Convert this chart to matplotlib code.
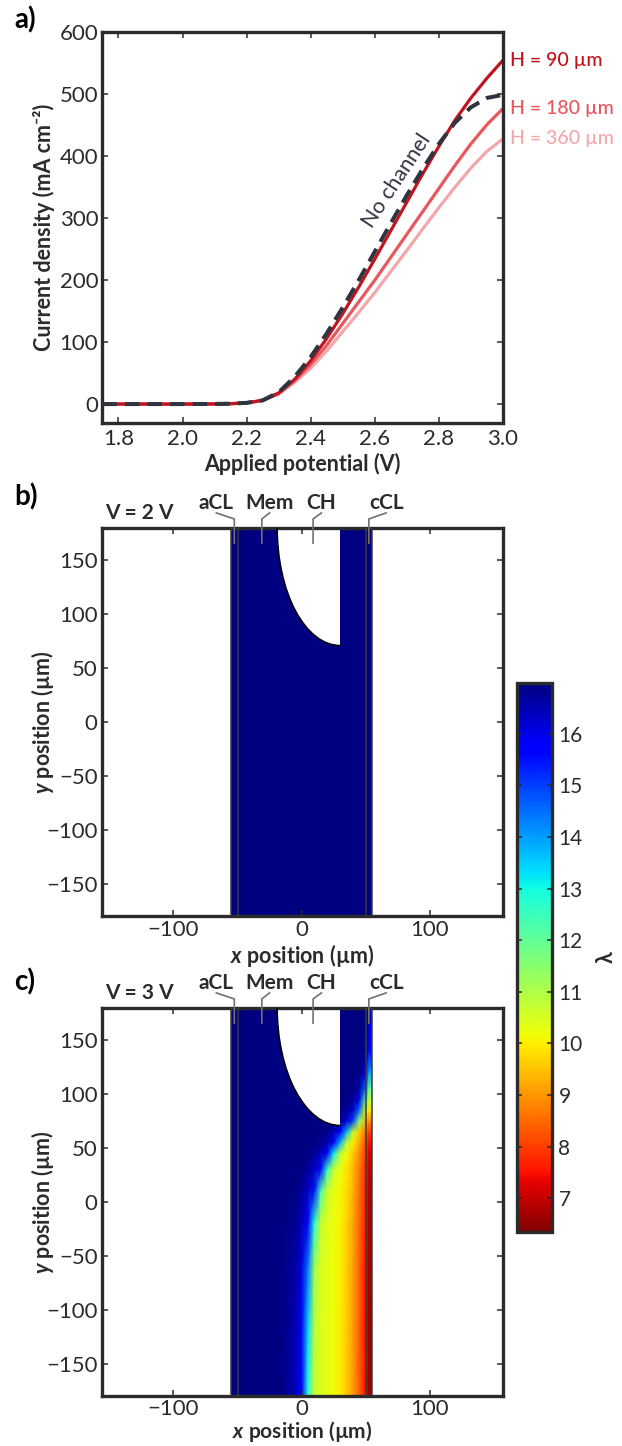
"""
Polarisation curves and membrane water content maps (panels a-c).
"""

import numpy as np
import matplotlib
matplotlib.use('Agg')
import matplotlib.pyplot as plt
from matplotlib.path import Path
from matplotlib.patches import PathPatch
from matplotlib.transforms import Affine2D
from matplotlib.ticker import FormatStrFormatter

plt.rcParams['font.family'] = ['Lato', 'DejaVu Sans']
plt.rcParams['mathtext.fontset'] = 'custom'
plt.rcParams['mathtext.rm'] = 'Lato'
plt.rcParams['mathtext.it'] = 'Lato:italic:bold'

INK = '#2b2b2b'

# ---- panel a: polarisation curves ----
potential = [1.75, 1.8, 1.9, 2.0, 2.1, 2.15, 2.2, 2.25, 2.3, 2.35, 2.4, 2.45,
             2.5, 2.55, 2.6, 2.65, 2.7, 2.75, 2.8, 2.85, 2.9, 2.95, 3.0]
j_no_channel = [0, 0, 0, 0, 0.2, 0.6, 2, 6, 19, 44, 76, 114,
                156, 200, 246, 292, 337, 380, 420, 454, 479, 494, 499]
j_h90 = [0, 0, 0, 0, 0.2, 0.6, 2, 6, 18, 40, 70, 106,
         146, 189, 234, 280, 326, 372, 416, 458, 494, 526, 555]
j_h180 = [0, 0, 0, 0, 0.2, 0.6, 2, 6, 17, 38, 64, 95,
          130, 165, 200, 237, 274, 311, 348, 385, 420, 451, 477]
j_h360 = [0, 0, 0, 0, 0.2, 0.5, 1.8, 5.5, 16, 35, 58, 86,
          117, 148, 180, 214, 248, 283, 317, 350, 381, 408, 428]
channel_labels = ['H = 90 µm', 'H = 180 µm', 'H = 360 µm']
channel_colors = ['#c0141e', '#e8575d', '#f4a7aa']

# ---- panels b, c: water content lambda ----
LAM_MIN, LAM_MAX = 6.35, 16.98
cbar_ticks = [7, 8, 9, 10, 11, 12, 13, 14, 15, 16]

# geometry of the cell cross-section (µm)
X_ACL, X_MEM, X_CCL, X_END = -55, -50, 50, 55
Y_BOT, Y_TOP = -180, 180
CH_LEFT, CH_RIGHT, CH_BOTTOM = -19, 30, 71

layer_names = ['aCL', 'Mem', 'CH', 'cCL']
layer_label_x = [-66.5, -25, 15.5, 66]
layer_pointer_x = [-52.5, -31, 9, 52.5]

# V = 2 V: membrane is fully hydrated
lam2_x = [-55, 55]
lam2_y = [-180, 180]
lam2 = [[17.0, 17.0],
        [17.0, 17.0]]

# V = 3 V
lam3_x = [-55, -30, -15, -5, 0, 5, 10, 15, 20, 25, 30, 35, 40, 45, 50, 52.5, 55]
lam3_y = [-180, -120, -60, -20, 10, 30, 45, 55, 65, 75, 85, 95, 105, 120, 140, 180]
lam3 = [
    [17, 17, 16.9, 16.4, 15.7, 12.8, 10.7, 10.45, 10.3, 10.2, 10.0, 9.6, 9.1, 8.4, 7.5, 6.6, 6.5],
    [17, 17, 16.9, 16.5, 15.9, 13.4, 10.9, 10.45, 10.3, 10.2, 10.0, 9.6, 9.1, 8.4, 7.5, 6.65, 6.55],
    [17, 17, 16.95, 16.6, 16.1, 14.4, 11.3, 10.5, 10.35, 10.2, 10.05, 9.65, 9.15, 8.45, 7.55, 6.7, 6.6],
    [17, 17, 17, 16.8, 16.4, 15.6, 12.8, 10.7, 10.4, 10.25, 10.05, 9.7, 9.2, 8.5, 7.6, 6.75, 6.65],
    [17, 17, 17, 16.9, 16.7, 16.3, 15.4, 12.4, 10.6, 10.3, 10.1, 9.8, 9.3, 8.6, 7.7, 6.85, 6.75],
    [17, 17, 17, 17, 16.9, 16.7, 16.3, 15.5, 12.6, 10.6, 10.3, 9.9, 9.4, 8.7, 7.8, 7.0, 6.9],
    [17, 17, 17, 17, 17, 16.9, 16.7, 16.4, 15.8, 13.2, 10.8, 10.2, 9.6, 8.9, 7.9, 7.2, 7.1],
    [17, 17, 17, 17, 17, 17, 16.95, 16.8, 16.5, 15.8, 13.8, 10.9, 10.0, 9.2, 8.1, 7.5, 7.4],
    [17, 17, 17, 17, 17, 17, 17, 16.95, 16.8, 16.5, 15.8, 13.8, 10.8, 9.6, 8.5, 8.0, 7.9],
    [17, 17, 17, 17, 17, 17, 17, 17, 17, 16.9, 16.7, 16.2, 15.0, 11.5, 9.3, 8.8, 8.7],
    [17, 17, 17, 17, 17, 17, 17, 17, 17, 17, 16.9, 16.7, 16.3, 14.5, 10.3, 9.9, 9.8],
    [17, 17, 17, 17, 17, 17, 17, 17, 17, 17, 17, 16.9, 16.7, 16.0, 12.2, 10.9, 10.8],
    [17, 17, 17, 17, 17, 17, 17, 17, 17, 17, 17, 17, 16.9, 16.6, 14.5, 12.0, 11.9],
    [17, 17, 17, 17, 17, 17, 17, 17, 17, 17, 17, 17, 17, 16.9, 16.2, 14.0, 13.9],
    [17, 17, 17, 17, 17, 17, 17, 17, 17, 17, 17, 17, 17, 17, 16.8, 15.7, 15.6],
    [17, 17, 17, 17, 17, 17, 17, 17, 17, 17, 17, 17, 17, 17, 16.95, 16.3, 16.2],
]


def style_axes(ax):
    for sp in ax.spines.values():
        sp.set_linewidth(2.4)
        sp.set_color(INK)
    ax.tick_params(direction='in', top=True, right=True, length=4.3, width=1.1,
                   colors=INK, labelsize=16, pad=3)


def domain_path():
    # channel wall is a quarter ellipse from (CH_LEFT, Y_TOP) to (CH_RIGHT, CH_BOTTOM)
    arc = Path.arc(180, 270).transformed(
        Affine2D().scale(CH_RIGHT - CH_LEFT, Y_TOP - CH_BOTTOM).translate(CH_RIGHT, Y_TOP))
    wall = arc.to_polygons(closed_only=False)[0]
    verts = ([(X_ACL, Y_BOT), (X_END, Y_BOT), (X_END, Y_TOP), (CH_RIGHT, Y_TOP)]
             + [tuple(v) for v in wall[::-1]]
             + [(X_ACL, Y_TOP), (X_ACL, Y_BOT)])
    return Path(verts, closed=True), wall


def draw_map(ax, xs, ys, lam, volt_text, xlabel_y, xlabel_size):
    mesh = ax.pcolormesh(xs, ys, np.array(lam), shading='gouraud', cmap='jet_r',
                         vmin=LAM_MIN, vmax=LAM_MAX, zorder=1)
    path, wall = domain_path()
    mesh.set_clip_path(PathPatch(path, transform=ax.transData))

    ax.plot(wall[:, 0], wall[:, 1], color='black', lw=1.1, zorder=3)
    for xb in [X_ACL, X_MEM, X_CCL, X_END]:
        ax.plot([xb, xb], [Y_BOT, Y_TOP], color='#3a3a3a', lw=1.1, zorder=3)

    ax.set_xlim(-156, 157)
    ax.set_ylim(Y_BOT, Y_TOP)
    ax.set_xticks([-100, 0, 100])
    ax.set_yticks([-150, -100, -50, 0, 50, 100, 150])
    style_axes(ax)
    ax.set_xlabel(r'$x$ position (µm)', fontsize=xlabel_size, fontweight='bold', color=INK)
    ax.set_ylabel(r'$y$ position (µm)', fontsize=15.5, fontweight='bold', color=INK)
    ax.xaxis.set_label_coords(0.5, xlabel_y)
    ax.yaxis.set_label_coords(-0.114, 0.5)

    for name, tx, px in zip(layer_names, layer_label_x, layer_pointer_x):
        ax.text(tx, 203, name, ha='center', va='center', fontsize=15,
                fontweight='bold', color=INK, clip_on=False)
        ax.plot([tx, px, px], [194, 188.4, 166], color='#707070', lw=1.2,
                clip_on=False, zorder=6)
    ax.text(-153.4, 194, volt_text, ha='left', va='center', fontsize=15,
            fontweight='bold', color=INK, clip_on=False)
    return mesh


fig = plt.figure(figsize=(6.22, 14.46), dpi=100)

# panel a
ax_a = fig.add_axes([0.1646, 0.7077, 0.6441, 0.2700])
for j, lab, col in zip([j_h360, j_h180, j_h90], channel_labels[::-1], channel_colors[::-1]):
    ax_a.plot(potential, j, color=col, lw=2.3, zorder=2)
    ax_a.annotate(lab, xy=(potential[-1], j[-1]), xytext=(5, 0), textcoords='offset points',
                  ha='left', va='center', fontsize=14, fontweight='medium', color=col,
                  annotation_clip=False)
ax_a.plot(potential, j_no_channel, color='#2e3440', lw=2.9, dashes=(3.6, 2.0), zorder=3)
ax_a.text(2.668, 361, 'No channel', rotation=56.5, rotation_mode='anchor', ha='center',
          va='center', fontsize=15.5, color='#2e3440')
ax_a.set_xlim(1.75, 3.0)
ax_a.set_ylim(-30, 600)
ax_a.set_xticks([1.8, 2.0, 2.2, 2.4, 2.6, 2.8, 3.0])
ax_a.set_yticks([0, 100, 200, 300, 400, 500, 600])
ax_a.xaxis.set_major_formatter(FormatStrFormatter('%.1f'))
style_axes(ax_a)
ax_a.tick_params(axis='x', pad=4.5)
ax_a.set_xlabel('Applied potential (V)', fontsize=15.5, fontweight='bold', color=INK)
ax_a.set_ylabel('Current density (mA cm⁻²)', fontsize=15.5, fontweight='bold', color=INK)
ax_a.xaxis.set_label_coords(0.5, -0.077)
ax_a.yaxis.set_label_coords(-0.118, 0.5)

# panels b and c
ax_b = fig.add_axes([0.1635, 0.36653, 0.6447, 0.2683])
draw_map(ax_b, lam2_x, lam2_y, lam2, 'V = 2 V', -0.067, 15.5)
ax_c = fig.add_axes([0.1635, 0.0346, 0.6447, 0.2683])
mesh = draw_map(ax_c, lam3_x, lam3_y, lam3, 'V = 3 V', -0.06, 15)
ax_c.tick_params(axis='x', pad=2)

# colour bar
cax = fig.add_axes([0.8304, 0.148, 0.0563, 0.3797])
cb = fig.colorbar(mesh, cax=cax, ticks=cbar_ticks)
cb.outline.set_linewidth(2.4)
cb.outline.set_edgecolor(INK)
cb.ax.tick_params(direction='in', left=True, right=True, length=3.6, width=1.1,
                  colors=INK, labelsize=15, pad=5)
cb.set_label('λ', fontsize=15.5, fontweight='bold', color=INK)
cb.ax.yaxis.set_label_coords(2.25, 0.5)

for lab, y in zip(['a)', 'b)', 'c)'], [20, 497, 982]):
    fig.text(14 / 622, 1 - y / 1446, lab, fontsize=20, fontweight='bold', color='black',
             ha='left', va='center')

fig.savefig('out.png', dpi=100, facecolor='white')
